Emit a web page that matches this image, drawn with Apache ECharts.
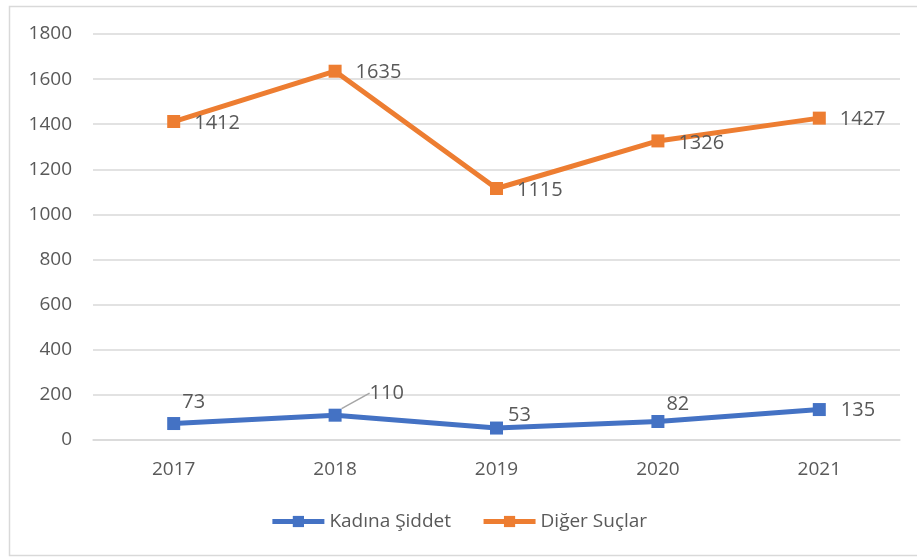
<!DOCTYPE html>
<html>
<head>
<meta charset="utf-8">
<script src="https://cdn.jsdelivr.net/npm/echarts@6/dist/echarts.min.js"></script>
<style>
  html, body { margin: 0; padding: 0; background: #fff; }
  #chart { width: 917px; height: 558px; }
</style>
</head>
<body>
<div id="chart"></div>
<script>
const years = ['2017', '2018', '2019', '2020', '2021']
const kadinaSiddet = [73, 110, 53, 82, 135]
const digerSuclar = [1412, 1635, 1115, 1326, 1427]

// label shifts (dx, dy) from the default 'right' position
const blueShift = [[-4, -21], [22, -22], [-1, -13], [-4, -17], [9, 1]]
const orangeShift = [[8, 2], [8, 1], [8, 2], [8, 2], [8, 1]]

const textColor = '#595959'
const fontFamily = 'Open Sans, sans-serif'

const chart = echarts.init(document.getElementById('chart'))

function labelFor() {
  return {
    show: true,
    position: 'right',
    distance: 6,
    color: textColor,
    fontSize: 20,
    fontFamily: fontFamily
  }
}

chart.setOption({
  animation: false,
  graphic: [{
    type: 'rect',
    shape: { x: 9.5, y: 6.5, width: 920, height: 549 },
    style: { fill: 'none', stroke: '#d9d9d9', lineWidth: 1.5 },
    silent: true
  }],
  grid: {
    left: 93,
    right: 17,
    top: 34,
    bottom: 118
  },
  legend: {
    bottom: 22,
    left: 'center',
    itemWidth: 52,
    itemHeight: 14,
    itemGap: 30,
    lineStyle: { width: 5 },
    textStyle: { color: textColor, fontSize: 19, fontFamily: fontFamily },
    data: ['Kadına Şiddet', 'Diğer Suçlar']
  },
  xAxis: {
    type: 'category',
    data: years,
    axisLine: { lineStyle: { color: '#d9d9d9', width: 1.5 } },
    axisTick: { show: false },
    axisLabel: { color: textColor, fontSize: 19, fontFamily: fontFamily, margin: 20 }
  },
  yAxis: {
    type: 'value',
    min: 0,
    max: 1800,
    interval: 200,
    axisLine: { show: false },
    axisTick: { show: false },
    splitLine: { lineStyle: { color: '#d9d9d9', width: 1.5 } },
    axisLabel: { color: textColor, fontSize: 19, fontFamily: fontFamily, margin: 21, formatter: v => String(v) }
  },
  series: [{
    name: 'Kadına Şiddet',
    type: 'line',
    data: kadinaSiddet.map((v, i) => (i === 1 ? { value: v, labelLine: { show: true, lineStyle: { color: '#a6a6a6', width: 1.5 } } } : v)),
    symbol: 'rect',
    symbolSize: 13,
    lineStyle: { color: '#4472C4', width: 5 },
    itemStyle: { color: '#4472C4' },
    label: labelFor(),
    labelLayout: p => ({ dx: blueShift[p.dataIndex][0], dy: blueShift[p.dataIndex][1] })
  }, {
    name: 'Diğer Suçlar',
    type: 'line',
    data: digerSuclar,
    symbol: 'rect',
    symbolSize: 13,
    lineStyle: { color: '#ED7D31', width: 5 },
    itemStyle: { color: '#ED7D31' },
    label: labelFor(),
    labelLayout: p => ({ dx: orangeShift[p.dataIndex][0], dy: orangeShift[p.dataIndex][1] })
  }]
})
</script>
</body>
</html>
